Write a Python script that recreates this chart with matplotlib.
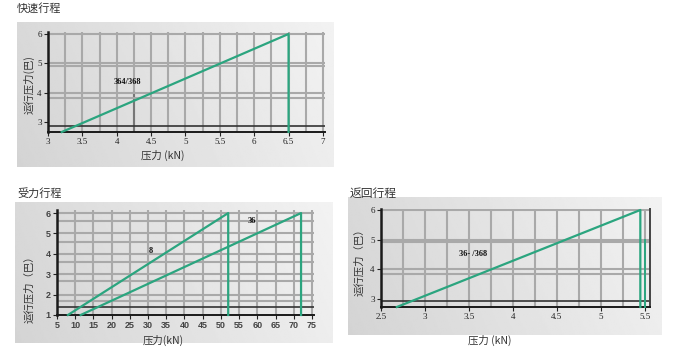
import numpy as np
import matplotlib
matplotlib.use("Agg")
import matplotlib.pyplot as plt

plt.rcParams['font.family'] = ['Noto Sans CJK SC', 'DejaVu Sans']

W, H = 673, 358

# ---------------- data ----------------
titles = ["快速行程", "受力行程", "返回行程"]

# Panel 1: 快速行程
fast_x = [3.2, 6.5, 6.5]
fast_y = [2.67, 6.0, 2.67]
fast_label = "364/368"
fast_xticks = [3, 3.5, 4, 4.5, 5, 5.5, 6, 6.5, 7]
fast_xticklabels = ["3", "3.5", "4", "4.5", "5", "5.5", "6", "6.5", "7"]
fast_yticks = [3, 4, 5, 6]

# Panel 2: 受力行程
force_a_x = [8, 52, 52]
force_a_y = [1, 6, 1]
force_b_x = [11.5, 72, 72]
force_b_y = [1, 6, 1]
force_labels = ["8", "36"]
force_xticks = [5, 10, 15, 20, 25, 30, 35, 40, 45, 50, 55, 60, 65, 70, 75]
force_yticks = [1, 2, 3, 4, 5, 6]

# Panel 3: 返回行程
ret_x = [2.68, 5.45, 5.45]
ret_y = [2.73, 6.0, 2.73]
ret_x2 = [5.5, 5.5]
ret_y2 = [5.0, 2.73]
ret_label = "36- /368"
ret_xticks = [2.5, 3, 3.5, 4, 4.5, 5, 5.5]
ret_xticklabels = ["2.5", "3", "3.5", "4", "4.5", "5", "5.5"]
ret_yticks = [3, 4, 5, 6]

GREEN = "#2ba57f"
GRID = "#a9a9a9"
DARK = "#1a1a1a"

fig = plt.figure(figsize=(W / 100, H / 100), dpi=100)
fig.patch.set_facecolor("white")


def px_rect(x0, y0, x1, y1):
    return [x0 / W, 1 - y1 / H, (x1 - x0) / W, (y1 - y0) / H]


def background(x0, y0, x1, y1):
    bg = fig.add_axes(px_rect(x0, y0, x1, y1), zorder=0)
    gx = np.linspace(0, 1, 200)
    gy = np.linspace(0, 1, 100)
    X, Y = np.meshgrid(gx, gy)
    val = 0.83 + 0.10 * X + 0.02 * Y
    bg.imshow(val, cmap="gray", vmin=0, vmax=1, aspect="auto",
              extent=[0, 1, 0, 1], origin="lower")
    bg.axis("off")
    return bg


def make_axes(x0, y0, x1, y1):
    ax = fig.add_axes(px_rect(x0, y0, x1, y1), zorder=2)
    ax.patch.set_alpha(0)
    for s in ["top", "right"]:
        ax.spines[s].set_visible(False)
    ax.spines["left"].set_color(DARK)
    ax.spines["left"].set_linewidth(1.8)
    ax.spines["bottom"].set_color(DARK)
    ax.spines["bottom"].set_linewidth(1.4)
    ax.tick_params(length=3, width=0.8, colors="#222222", pad=1.5)
    return ax


serif = {"family": ["Liberation Serif", "DejaVu Serif"]}

# ---------------- Panel 1 ----------------
background(17, 22, 334, 167)
ax1 = make_axes(48, 31.6, 325, 132)
ax1.set_xlim(3, 7.03)
ax1.set_ylim(2.67, 6.08)
for xv in np.arange(3.25, 7.01, 0.25):
    ax1.axvline(xv, color=GRID, lw=1.5, zorder=1)
ax1.plot([4.25, 4.25], [2.67, 4.0], color="#777777", lw=1.5, zorder=1)
for yv in [6, 5, 4.9, 4, 3.83]:
    ax1.axhline(yv, color=GRID, lw=1.5, zorder=1)
ax1.axhline(2.87, color="#333333", lw=1.2, zorder=1)
ax1.plot(fast_x, fast_y, color=GREEN, lw=1.6, zorder=3, clip_on=False)
ax1.text(4.16, 4.37, fast_label, fontsize=6, fontweight="bold",
         ha="center", va="center", color="#111111", **serif)
ax1.set_xticks(fast_xticks)
ax1.set_xticklabels(fast_xticklabels, fontsize=6.5, **serif)
ax1.set_yticks(fast_yticks)
ax1.set_yticklabels([str(v) for v in fast_yticks], fontsize=6.5, **serif)
fig.text(17 / W, 1 - 8 / H, titles[0], fontsize=8, ha="left", va="center",
         color="#333333")
fig.text(163 / W, 1 - 155 / H, "压力 (kN)", fontsize=7.5, ha="center",
         va="center", color="#333333")
fig.text(29 / W, 1 - 85 / H, "运行压力(巴)", fontsize=7.5, ha="center",
         va="center", rotation=90, color="#333333")

# ---------------- Panel 2 ----------------
background(15, 202, 333, 343)
ax2 = make_axes(57, 210, 313.8, 315)
ax2.set_xlim(5, 75.5)
ax2.set_ylim(1, 6.15)
for xv in range(10, 76, 5):
    ax2.axvline(xv, color=GRID, lw=1.5, zorder=1)
for yv in [6, 5.62, 5, 4.6, 4, 3.6, 3, 2.65, 2, 1.68]:
    ax2.axhline(yv, color=GRID, lw=1.5, zorder=1)
ax2.axhline(1.41, color="#333333", lw=1.2, zorder=1)
ax2.plot(force_a_x, force_a_y, color=GREEN, lw=1.6, zorder=3, clip_on=False)
ax2.plot(force_b_x, force_b_y, color=GREEN, lw=1.6, zorder=3, clip_on=False)
ax2.text(30.8, 4.14, force_labels[0], fontsize=6, fontweight="bold",
         ha="center", va="center", color="#111111", **serif)
ax2.text(58.6, 5.6, force_labels[1], fontsize=6, fontweight="bold",
         ha="center", va="center", color="#111111", **serif)
ax2.set_xticks(force_xticks)
ax2.set_xticklabels([str(v) for v in force_xticks], fontsize=6.5,
                    fontweight="bold", color="#444444",
                    family=["Liberation Sans Narrow", "Liberation Sans", "DejaVu Sans"])
ax2.set_yticks(force_yticks)
ax2.set_yticklabels([str(v) for v in force_yticks], fontsize=6.5,
                    fontweight="bold", color="#444444",
                    family=["Liberation Sans Narrow", "Liberation Sans", "DejaVu Sans"])
fig.text(17 / W, 1 - 193 / H, titles[1], fontsize=8, ha="left", va="center",
         color="#333333")
fig.text(163 / W, 1 - 340 / H, "压力(kN)", fontsize=7.5, ha="center",
         va="center", color="#333333")
fig.text(29 / W, 1 - 287 / H, "运行压力（巴）", fontsize=7.5, ha="center",
         va="center", rotation=90, color="#333333")

# ---------------- Panel 3 ----------------
background(348, 197, 662, 335)
ax3 = make_axes(381, 209.4, 650, 307)
ax3.set_xlim(2.5, 5.56)
ax3.set_ylim(2.73, 6.02)
ax3.spines["right"].set_visible(True)
ax3.spines["right"].set_color("#444444")
ax3.spines["right"].set_linewidth(1.4)
for xv in np.arange(2.75, 5.51, 0.25):
    ax3.axvline(xv, color=GRID, lw=1.5, zorder=1)
for yv in [6, 5, 4.93, 4, 3.83]:
    ax3.axhline(yv, color=GRID, lw=1.5, zorder=1)
ax3.axhline(2.93, color="#333333", lw=1.2, zorder=1)
ax3.plot(ret_x, ret_y, color=GREEN, lw=1.6, zorder=3, clip_on=False)
ax3.plot(ret_x2, ret_y2, color=GREEN, lw=1.4, zorder=3, clip_on=False)
ax3.text(3.55, 4.53, ret_label, fontsize=6, fontweight="bold",
         ha="center", va="center", color="#111111", **serif)
ax3.set_xticks(ret_xticks)
ax3.set_xticklabels(ret_xticklabels, fontsize=6.5, **serif)
ax3.set_yticks(ret_yticks)
ax3.set_yticklabels([str(v) for v in ret_yticks], fontsize=6.5, **serif)
fig.text(350 / W, 1 - 193 / H, titles[2], fontsize=8.5, ha="left", va="center",
         color="#333333")
fig.text(490 / W, 1 - 340 / H, "压力 (kN)", fontsize=7.5, ha="center",
         va="center", color="#333333")
fig.text(359 / W, 1 - 260 / H, "运行压力（巴）", fontsize=7.5, ha="center",
         va="center", rotation=90, color="#333333")

fig.savefig("out.png", dpi=100)
